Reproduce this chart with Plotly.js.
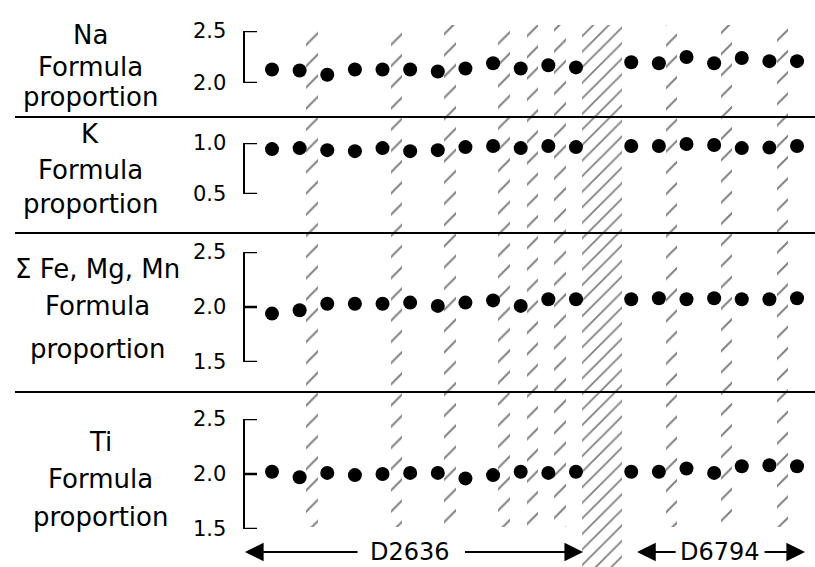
<!DOCTYPE html>
<html><head><meta charset="utf-8">
<script src="https://cdn.plot.ly/plotly-3.0.1.min.js"></script>
<style>html,body{margin:0;padding:0;background:#fff}#chart{width:815px;height:567px}</style>
</head><body><div id="chart"></div>
<script>
// sample positions (gap at 13 separates the two specimens)
const sampleX = [1,2,3,4,5,6,7,8,9,10,11,12,14,15,16,17,18,19,20];
const naValues = [2.13,2.12,2.08,2.13,2.13,2.13,2.11,2.14,2.19,2.14,2.17,2.15, 2.20,2.19,2.25,2.19,2.24,2.21,2.21];
const kValues = [0.94,0.95,0.93,0.92,0.95,0.92,0.93,0.96,0.97,0.95,0.97,0.96, 0.97,0.97,0.99,0.98,0.95,0.955,0.97];
const femgmnValues = [1.94,1.97,2.03,2.03,2.03,2.04,2.01,2.04,2.06,2.01,2.07,2.07, 2.07,2.08,2.07,2.08,2.07,2.07,2.08];
const tiValues = [2.02,1.97,2.01,1.99,2.00,2.01,2.01,1.96,1.99,2.02,2.01,2.02, 2.02,2.02,2.05,2.01,2.07,2.08,2.07];
const bandCenters = [2.45,5.5,7.45,9.4,10.43,11.42,15.46,17.45,19.48];
const wideBandCenters = [12.94];
const naTicks = [2.0,2.5], kTicks = [0.5,1.0], femgmnTicks = [1.5,2.0,2.5], tiTicks = [1.5,2.0,2.5];
const panelLabels = [
  ['Na','Formula','proportion'],
  ['K','Formula','proportion'],
  ['\u03A3 Fe, Mg, Mn','Formula','proportion'],
  ['Ti','Formula','proportion']
];
const specimenLabels = ['D2636','D6794'];

const H = 567, W = 815;
const py = p => (H - p) / H;  // pixel row -> paper fraction

const dot = {color:'#000', size:14};
const traces = [
  {x:sampleX, y:naValues, xaxis:'x', yaxis:'y', mode:'markers', type:'scatter', marker:dot, cliponaxis:false, hoverinfo:'none'},
  {x:sampleX, y:kValues, xaxis:'x', yaxis:'y2', mode:'markers', type:'scatter', marker:dot, cliponaxis:false, hoverinfo:'none'},
  {x:sampleX, y:femgmnValues, xaxis:'x', yaxis:'y3', mode:'markers', type:'scatter', marker:dot, cliponaxis:false, hoverinfo:'none'},
  {x:sampleX, y:tiValues, xaxis:'x', yaxis:'y4', mode:'markers', type:'scatter', marker:dot, cliponaxis:false, hoverinfo:'none'},
  {type:'bar', x:bandCenters, y:bandCenters.map(()=>py(25)-py(527)), base:bandCenters.map(()=>py(527)),
   width:bandCenters.map(()=>0.42), xaxis:'x', yaxis:'y5', hoverinfo:'none',
   marker:{color:'rgba(0,0,0,0)', line:{width:0}, pattern:{shape:'/', fgcolor:'#000', bgcolor:'rgba(0,0,0,0)', size:15, solidity:0.13, fillmode:'overlay'}}},
  {type:'bar', x:wideBandCenters, y:wideBandCenters.map(()=>py(25)), base:wideBandCenters.map(()=>0),
   width:wideBandCenters.map(()=>1.45), xaxis:'x', yaxis:'y5', hoverinfo:'none',
   marker:{color:'rgba(0,0,0,0)', line:{width:0}, pattern:{shape:'/', fgcolor:'#000', bgcolor:'rgba(0,0,0,0)', size:11, solidity:0.16, fillmode:'overlay'}}}
];

const tickFont = {family:'DejaVu Sans', size:21, color:'#000'};
function yax(domain, range, ticks){
  return {domain:domain, range:range, anchor:'x', showline:true, linewidth:2.5, linecolor:'#000',
    ticks:'', tickmode:'array', tickvals:ticks,
    ticktext:ticks.map(v=>v.toFixed(1)), tickfont:tickFont, ticklabelstandoff:12,
    showgrid:false, zeroline:false, fixedrange:true};
}

const annotations = [];
const labelRows = [[35,67,97],[134,170,204],[269,306,349],[442,479,517]];
const labelX = [90,90,97,100];
panelLabels.forEach((lines,i)=>{
  lines.forEach((t,j)=>{
    annotations.push({text:t, xref:'paper', yref:'paper', x:labelX[i]/W, y:py(labelRows[i][j]),
      xanchor:'center', yanchor:'middle', showarrow:false, font:{family:'DejaVu Sans', size:26, color:'#000'}});
  });
});
// specimen range arrows
const arrowY = py(552);
const arrowSpecs = [[0.02,4.15],[12.26,7.93],[14.21,15.66],[20.29,18.77]];
arrowSpecs.forEach(a=>{
  annotations.push({text:'', x:a[0], y:arrowY, ax:a[1], ay:arrowY, xref:'x', yref:'y5', axref:'x', ayref:'y5',
    showarrow:true, arrowhead:2, arrowsize:1.7, arrowwidth:2.2, arrowcolor:'#000', standoff:0, startstandoff:0});
});
annotations.push({text:specimenLabels[0], x:6.0, y:arrowY, xref:'x', yref:'y5', showarrow:false, xanchor:'center', yanchor:'middle', font:{family:'DejaVu Sans', size:24, color:'#000'}});
annotations.push({text:specimenLabels[1], x:17.22, y:arrowY, xref:'x', yref:'y5', showarrow:false, xanchor:'center', yanchor:'middle', font:{family:'DejaVu Sans', size:24, color:'#000'}});

const sepLine = y => ({type:'line', xref:'paper', yref:'paper', x0:15/W, x1:1, y0:py(y), y1:py(y), line:{color:'#000', width:2}});
// bracket tick marks, placed on each panel's own y scale
const shapes = [sepLine(117), sepLine(233), sepLine(392)];
[['y',naTicks],['y2',kTicks],['y3',femgmnTicks],['y4',tiTicks]].forEach(([ax,tv])=>{
  tv.forEach(v=>shapes.push({type:'line', xref:'paper', yref:ax, x0:244/W, x1:257/W, y0:v, y1:v, line:{color:'#000', width:2.5}}));
});

const layout = {
  width:W, height:H, margin:{l:0,r:0,t:0,b:0}, paper_bgcolor:'#fff', plot_bgcolor:'rgba(0,0,0,0)',
  showlegend:false, bargap:0, barmode:'overlay',
  xaxis:{domain:[245/W,1], range:[0.023,20.65], visible:false, fixedrange:true},
  yaxis:yax([py(83),py(31)],[2.0,2.5],naTicks),
  yaxis2:yax([py(194),py(143)],[0.5,1.0],kTicks),
  yaxis3:yax([py(362),py(252)],[1.5,2.5],femgmnTicks),
  yaxis4:yax([py(529),py(419)],[1.5,2.5],tiTicks),
  yaxis5:{domain:[0,1], range:[0,1], anchor:'x', visible:false, fixedrange:true},
  annotations:annotations,
  shapes:shapes
};
Plotly.newPlot('chart', traces, layout, {staticPlot:true, displayModeBar:false});
</script></body></html>
